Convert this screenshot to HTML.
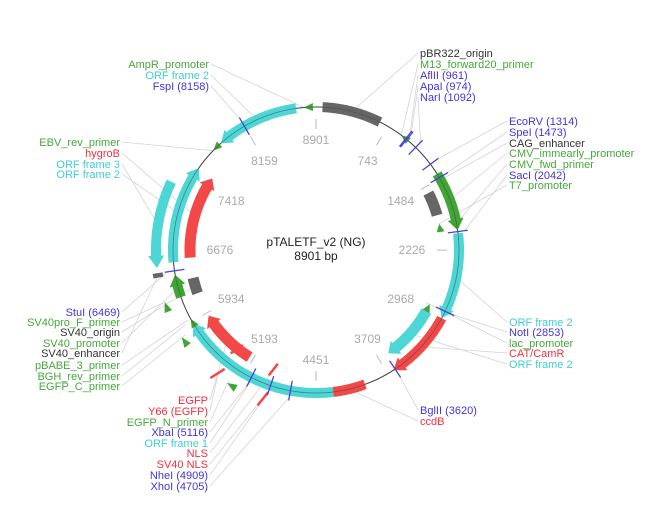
<!DOCTYPE html>
<html><head><meta charset="utf-8"><style>
html,body{margin:0;padding:0;background:#fff;}
svg{display:block;font-family:"Liberation Sans",Arial,sans-serif;}
</style></head><body>
<svg id="map" width="664" height="519" viewBox="0 0 664 519" xmlns="http://www.w3.org/2000/svg">
<g id="leaders"></g>
<circle cx="316" cy="250" r="143" fill="none" stroke="#444" stroke-width="1"/>
<g id="ticks"></g>
<g id="feats"></g>
<g id="cuts"></g>
<g id="labels"></g>
<text x="316" y="246" text-anchor="middle" font-size="12" fill="#222">pTALETF_v2 (NG)</text>
<text x="316" y="260" text-anchor="middle" font-size="12" fill="#222">8901 bp</text>
</svg>
<script>
const TOTAL = 8901;
const tickValues = [0,743,1484,2226,2968,3709,4451,5193,5934,6676,7418,8159];
const tickLabels = ["8901","743","1484","2226","2968","3709","4451","5193","5934","6676","7418","8159"];
// features: start, end, track, kind, direction
const featNames = ["pBR322_origin","AmpR_ORF2","CMV_enhancer","CMV_inner","ORF2_right","ORF2_inner","CAT_CamR","ccdB","ORF1","EGFP","SV40_promoter","SV40_origin","SV40_small","ORF3","ORF2_left","hygroB"];
const featStarts = [65,7870,1430,1560,2060,2940,2930,3955,4280,5235,6200,6180,6430,6515,6553,6590];
const featEnds   = [657,8703,2028,1830,2930,3585,3640,4280,5910,5897,6430,6360,6470,7300,7540,7530];
const featTracks = ["ring","ring","ring","inner","ring","inner","ring","ring","ring","inner","ring","inner","outer","outer","ring","inner"];
const featKinds  = ["gray","cyan","green","gray","cyan","cyan","red","red","cyan","red","green","gray","gray","cyan","cyan","red"];
const featDirs   = [0,-1,1,0,1,1,1,0,1,1,1,0,0,-1,1,1];
// primers / small arrows
const primerPos    = [8780,905,7763,1930,2855,5285,5860,5966,6206];
const primerTracks = ["ring","ring","ring","inner","inner","outer","outer","ring","outer"];
const primerDirs   = [-1,-1,-1,-1,-1,1,1,1,1];
// cut sites
const cutSites = [961,974,1092,1314,1473,2042,2853,3620,4705,4909,5116,6469,8158];
// small red marks
const markPos = [5403,4935];

const cx=316, cy=250;
const trackR = {ring:143, inner:126, outer:160};
const colors = {gray:"#666666", cyan:"#4dd6d6", green:"#3fa535", red:"#f24848"};
const NS="http://www.w3.org/2000/svg";
function ang(bp){return bp/TOTAL*2*Math.PI - Math.PI/2;}
function pt(r,bp){const a=ang(bp);return [cx+r*Math.cos(a), cy+r*Math.sin(a)];}
function mk(tag,attrs,parent){const e=document.createElementNS(NS,tag);for(const k in attrs)e.setAttribute(k,attrs[k]);parent.appendChild(e);return e;}

function arrowPoly(r,w,s,e,dir,head){
  const pts=[];const N=40;
  let bs=s, be=e;
  if(dir===1) be=Math.max(s,e-head);
  if(dir===-1) bs=Math.min(e,s+head);
  const ro=r+w/2, ri=r-w/2, hw=w/2+3;
  for(let i=0;i<=N;i++){const b=bs+(be-bs)*i/N;pts.push(pt(ro,b));}
  if(dir===1){pts.push(pt(r+hw,be));pts.push(pt(r,e));pts.push(pt(r-hw,be));}
  for(let i=N;i>=0;i--){const b=bs+(be-bs)*i/N;pts.push(pt(ri,b));}
  if(dir===-1){pts.push(pt(r-hw,bs));pts.push(pt(r,s));pts.push(pt(r+hw,bs));}
  return pts.map(p=>p[0].toFixed(1)+","+p[1].toFixed(1)).join(" ");
}

// ticks
const gT=document.getElementById('ticks');
tickValues.forEach((v,i)=>{
  const a=pt(121,v), b=pt(131,v);
  const l=mk('line',{x1:a[0],y1:a[1],x2:b[0],y2:b[1],stroke:"#bbb","stroke-width":1},gT);
  
  
  const hz=Math.abs(Math.cos(ang(v)));
  const p=pt(110-14*hz,v);
  const t=mk('text',{x:p[0],y:p[1]+4,"text-anchor":"middle","font-size":"12",fill:"#aaa"},gT);
  t.textContent=tickLabels[i];
  
  
});

// features
const gF=document.getElementById('feats');
featNames.forEach((n,i)=>{
  const w = featTracks[i]==="inner"?11:10;
  const p=mk('polygon',{points:arrowPoly(trackR[featTracks[i]],w,featStarts[i],featEnds[i],featDirs[i],110),fill:colors[featKinds[i]]},gF);
  
  
});
// primers
primerPos.forEach((v,i)=>{
  const d=primerDirs[i];
  const s=d===1?v-90:v, e=d===1?v:v+90;
  const p=mk('polygon',{points:arrowPoly(trackR[primerTracks[i]],2,s,e,d,90),fill:colors.green},gF);
  
  
});
// red marks
markPos.forEach((v)=>{
  [[150,166],[120,134]].forEach(rr=>{
    const a=pt(rr[0],v-25), b=pt(rr[1],v+25);
    const l=mk('line',{x1:a[0],y1:a[1],x2:b[0],y2:b[1],stroke:colors.red,"stroke-width":2.5},gF);
    
    
  });
});
mk('circle',{cx:cx,cy:cy,r:143,fill:"none",stroke:"#444","stroke-width":0.8,"stroke-opacity":0.6},gF);
// cut sites
const gC=document.getElementById('cuts');
cutSites.forEach(v=>{
  const a=pt(133,v), b=pt(153,v);
  const l=mk('line',{x1:a[0],y1:a[1],x2:b[0],y2:b[1],stroke:"#4a40e0","stroke-width":1.3},gC);
  
  
});

const labelTexts = ["pBR322_origin","M13_forward20_primer","AflII (961)","ApaI (974)","NarI (1092)",
 "EcoRV (1314)","SpeI (1473)","CAG_enhancer","CMV_immearly_promoter","CMV_fwd_primer","SacI (2042)","T7_promoter",
 "ORF frame 2","NotI (2853)","lac_promoter","CAT/CamR","ORF frame 2","BglII (3620)","ccdB",
 "AmpR_promoter","ORF frame 2","FspI (8158)","EBV_rev_primer","hygroB","ORF frame 3","ORF frame 2",
 "StuI (6469)","SV40pro_F_primer","SV40_origin","SV40_promoter","SV40_enhancer","pBABE_3_primer","BGH_rev_primer","EGFP_C_primer",
 "EGFP","Y66 (EGFP)","EGFP_N_primer","XbaI (5116)","ORF frame 1","NLS","SV40 NLS","NheI (4909)","XhoI (4705)"];
const labelColors = ["dark","green","blue","blue","blue","blue","blue","dark","green","green","blue","green",
 "cyan","blue","green","red","cyan","blue","red",
 "green","cyan","blue","green","red","cyan","cyan",
 "blue","green","dark","green","dark","green","green","green",
 "red","red","green","blue","cyan","red","red","blue","blue"];
const labelTargets = [360,905,961,974,1092,1314,1473,1500,1700,1960,2042,1930,2500,2853,2855,3280,3260,3620,4120,
 8780,8300,8158,7763,7060,6900,7050,6469,6206,6270,6300,6450,5966,5940,5860,5560,5403,5285,5116,5100,4935,4935,4909,4705];
const labelRadii = [143,143,150,150,150,150,150,143,148,143,150,125,143,150,122,143,125,150,143,
 143,143,150,143,125,160,143,150,160,125,143,160,146,150,156,125,157,158,150,143,128,156,150,150];
const labelX = [420,420,420,420,420,509,509,509,509,509,509,509,509,509,509,509,509,420,420,
 209,209,209,120,120,120,120,120,120,120,120,120,120,120,120,208,208,208,208,208,208,208,208,208];
const labelY = [53,64,75,86,97,121,132,143,153,164,175,185,322,332,343,353,364,410,421,
 64,75,86,142,153,164,174,312,322,332,343,353,365,376,386,400,411,422,432,443,453,464,475,486];
const txtColors = {dark:"#333333",green:"#45a83a",blue:"#4433dd",cyan:"#3fcfcf",red:"#f03040"};
const gL=document.getElementById('leaders'), gX=document.getElementById('labels');
labelTexts.forEach((s,i)=>{
  const x=labelX[i], y=labelY[i];
  const left = (x>=400);
  const p=pt(labelRadii[i],labelTargets[i]);
  const lx = left ? x-2 : x+2;
  const l=mk('line',{x1:lx,y1:y,x2:p[0],y2:p[1],stroke:"#d4d4d4","stroke-width":0.8},gL);
  
  
  const t=mk('text',{x:x,y:y+4,"text-anchor":left?"start":"end","font-size":"11",fill:txtColors[labelColors[i]]},gX);
  t.textContent=s;
  
  
});
</script>
</body></html>
